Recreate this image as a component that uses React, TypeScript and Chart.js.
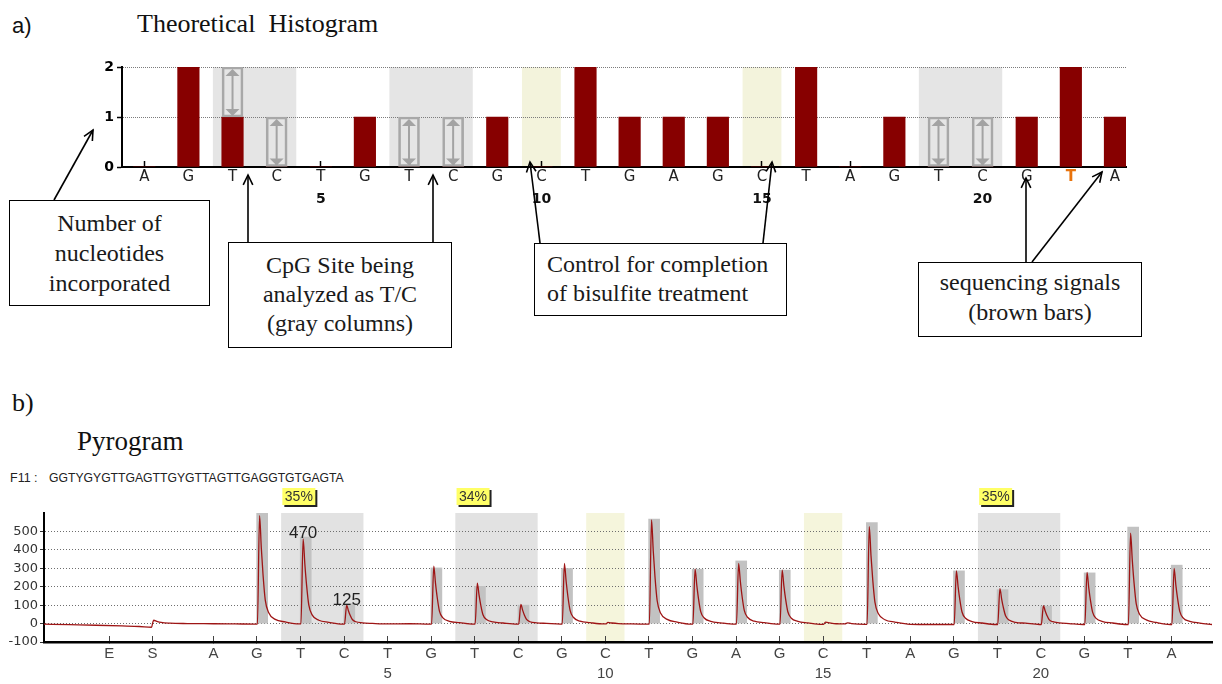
import React, { useEffect, useRef } from 'react';
import { Chart, registerables } from 'chart.js';

Chart.register(...registerables);

const SANS = '"DejaVu Sans", Verdana, sans-serif';
const ARIAL = '"Liberation Sans", Arial, sans-serif';
const SERIF = '"Liberation Serif", "Times New Roman", serif';

// ---------- Panel a: theoretical histogram ----------
const histPositions = [1, 2, 3, 4, 5, 6, 7, 8, 9, 10, 11, 12, 13, 14, 15, 16, 17, 18, 19, 20, 21, 22, 23];
const histLetters = ['A', 'G', 'T', 'C', 'T', 'G', 'T', 'C', 'G', 'C', 'T', 'G', 'A', 'G', 'C', 'T', 'A', 'G', 'T', 'C', 'G', 'T', 'A'];
const histCounts = [0, 2, 1, 0, 0, 1, 0, 0, 1, 0, 2, 1, 1, 1, 0, 2, 0, 1, 0, 0, 1, 2, 1];
const histNumberTicks = [5, 10, 15, 20];
const variablePositions = [3, 4, 7, 8, 19, 20];
const variableLow = [1, 0, 0, 0, 0, 0];
const variableHigh = [2, 1, 1, 1, 1, 1];
const cpgStarts = [3, 7, 19];
const controlPositions = [10, 15];
const highlightedPosition = 22;

// ---------- Panel b: pyrogram ----------
const pyroTickPositions = [-1.39, -0.4, 1, 2, 3, 4, 5, 6, 7, 8, 9, 10, 11, 12, 13, 14, 15, 16, 17, 18, 19, 20, 21, 22, 23];
const pyroLetters = ['E', 'S', 'A', 'G', 'T', 'C', 'T', 'G', 'T', 'C', 'G', 'C', 'T', 'G', 'A', 'G', 'C', 'T', 'A', 'G', 'T', 'C', 'G', 'T', 'A'];
const pyroNumberTicks = [5, 10, 15, 20];
const pyroBarPositions = [2, 3, 4, 6, 7, 8, 9, 11, 12, 13, 14, 16, 18, 19, 20, 21, 22, 23];
const pyroBarHeights = [600, 470, 108, 302, 202, 100, 299, 567, 295, 340, 290, 548, 286, 184, 95, 275, 523, 317];
const pyroTrace: [number, number][] = [
  [-2.89, -3], [-2.3, -6], [-1.7, -9], [-1.1, -13], [-0.7, -16], [-0.42, -20], [-0.39, 8], [-0.37, 18], [-0.3, 12], [-0.2, 6], [0, 2], [0.4, 0], [1, -1], [1.5, -2], [1.97, -3],
  [2.01, -2], [2.06, 586], [2.1, 410], [2.14, 264], [2.19, 129], [2.27, 59], [2.42, 23], [2.65, 9], [2.97, -2],
  [3.01, -2], [3.06, 460], [3.1, 322], [3.14, 207], [3.19, 101], [3.27, 46], [3.42, 18], [3.65, 7], [3.97, -3],
  [4.01, -3], [4.06, 100], [4.1, 70], [4.14, 45], [4.19, 22], [4.27, 10], [4.42, 4], [4.65, 1], [5.0, -2], [5.5, -1], [5.97, -3],
  [6.01, -3], [6.06, 311], [6.1, 218], [6.14, 140], [6.19, 68], [6.27, 31], [6.42, 12], [6.65, 5], [6.97, -3],
  [7.01, -3], [7.06, 220], [7.1, 154], [7.14, 99], [7.19, 48], [7.27, 22], [7.42, 9], [7.65, 3], [7.97, -3],
  [8.01, -3], [8.06, 104], [8.1, 73], [8.14, 47], [8.19, 23], [8.27, 10], [8.42, 4], [8.65, 1], [8.97, -3],
  [9.01, -3], [9.06, 326], [9.1, 228], [9.14, 147], [9.19, 72], [9.27, 33], [9.42, 13], [9.65, 5], [9.97, -2],
  [10.01, -2], [10.06, 6], [10.15, 3], [10.3, 0], [10.6, -2], [10.97, -3],
  [11.01, -3], [11.06, 563], [11.1, 394], [11.14, 253], [11.19, 124], [11.27, 56], [11.42, 23], [11.65, 8], [11.97, -3],
  [12.01, -3], [12.06, 295], [12.1, 207], [12.14, 133], [12.19, 65], [12.27, 30], [12.42, 12], [12.65, 4], [12.97, -3],
  [13.01, -3], [13.06, 326], [13.1, 228], [13.14, 147], [13.19, 72], [13.27, 33], [13.42, 13], [13.65, 5], [13.97, -3],
  [14.01, -3], [14.06, 290], [14.1, 203], [14.14, 131], [14.19, 64], [14.27, 29], [14.42, 12], [14.65, 4], [14.97, -4],
  [15.01, -4], [15.06, 8], [15.15, 4], [15.3, -1], [15.5, -2], [15.56, 4], [15.65, 0], [15.97, -4],
  [16.01, -4], [16.06, 526], [16.1, 368], [16.14, 237], [16.19, 116], [16.27, 53], [16.42, 21], [16.65, 8], [17.0, -4], [17.5, -5], [17.97, -5],
  [18.01, -5], [18.06, 286], [18.1, 200], [18.14, 129], [18.19, 63], [18.27, 29], [18.42, 11], [18.65, 3], [18.97, -5],
  [19.01, -5], [19.06, 190], [19.1, 133], [19.14, 86], [19.19, 42], [19.27, 19], [19.42, 7], [19.65, 2], [19.97, -5],
  [20.01, -5], [20.06, 97], [20.1, 68], [20.14, 44], [20.19, 21], [20.27, 10], [20.42, 4], [20.65, 0], [20.97, -5],
  [21.01, -5], [21.06, 277], [21.1, 194], [21.14, 125], [21.19, 61], [21.27, 28], [21.42, 11], [21.65, 3], [21.97, -5],
  [22.01, -5], [22.06, 490], [22.1, 343], [22.14, 221], [22.19, 108], [22.27, 49], [22.42, 20], [22.65, 6], [22.97, -5],
  [23.01, -5], [23.06, 299], [23.1, 209], [23.14, 135], [23.19, 66], [23.27, 30], [23.42, 12], [23.65, 3], [23.93, -5],
];
const methylationLabels = ['35%', '34%', '35%'];
const peakLabelPositions = [3, 4];
const peakLabelTexts = ['470', '125'];
const sequenceName = 'F11 :';
const sequenceText = 'GGTYGYGTTGAGTTGYGTTAGTTGAGGTGTGAGTA';

// ---------- plugins ----------
function makeShading(id: string, gray: string, cream: string) {
  return {
    id,
    beforeDraw(chart: any) {
      const { ctx, chartArea, scales } = chart;
      const x = scales.x;
      const h = chartArea.bottom - chartArea.top;
      ctx.save();
      ctx.fillStyle = gray;
      cpgStarts.forEach((s) => {
        const l = x.getPixelForValue(s - 0.445);
        const r = x.getPixelForValue(s + 1.445);
        ctx.fillRect(l, chartArea.top, r - l, h);
      });
      ctx.fillStyle = cream;
      controlPositions.forEach((p) => {
        const l = x.getPixelForValue(p - 0.44);
        const r = x.getPixelForValue(p + 0.44);
        ctx.fillRect(l, chartArea.top, r - l, h);
      });
      ctx.restore();
    },
  };
}

const variableArrows = {
  id: 'variableArrows',
  afterDatasetsDraw(chart: any) {
    const meta = chart.getDatasetMeta(1);
    const ctx = chart.ctx;
    ctx.save();
    ctx.strokeStyle = '#a3a3a3';
    ctx.fillStyle = '#a3a3a3';
    ctx.lineWidth = 2;
    meta.data.forEach((el: any) => {
      const p = el.getProps(['x', 'y', 'base'], true);
      const top = Math.min(p.y, p.base);
      const bot = Math.max(p.y, p.base);
      const x = p.x;
      ctx.beginPath();
      ctx.moveTo(x, top + 6);
      ctx.lineTo(x, bot - 6);
      ctx.stroke();
      ctx.beginPath();
      ctx.moveTo(x, top + 2);
      ctx.lineTo(x - 7, top + 9);
      ctx.lineTo(x + 7, top + 9);
      ctx.closePath();
      ctx.fill();
      ctx.beginPath();
      ctx.moveTo(x, bot - 1);
      ctx.lineTo(x - 7, bot - 8);
      ctx.lineTo(x + 7, bot - 8);
      ctx.closePath();
      ctx.fill();
    });
    ctx.restore();
  },
};

const pyroLabels = {
  id: 'pyroLabels',
  afterDraw(chart: any) {
    const { ctx, chartArea, scales } = chart;
    const x = scales.x;
    const y = scales.y;
    ctx.save();
    ctx.font = `14px ${ARIAL}`;
    ctx.textAlign = 'center';
    ctx.textBaseline = 'middle';
    cpgStarts.forEach((s, i) => {
      const l = x.getPixelForValue(s - 0.44) + 1;
      const w = 33;
      const t = chartArea.top - 25;
      const h = 17;
      ctx.fillStyle = '#222';
      ctx.fillRect(l + 2, t + 2, w, h);
      ctx.fillStyle = '#ffff66';
      ctx.fillRect(l, t, w, h);
      ctx.fillStyle = '#333';
      ctx.fillText(methylationLabels[i], l + w / 2, t + h / 2 + 1);
    });
    ctx.font = `17px ${ARIAL}`;
    ctx.textBaseline = 'alphabetic';
    ctx.fillStyle = '#222';
    peakLabelPositions.forEach((p, i) => {
      const v = pyroBarHeights[pyroBarPositions.indexOf(p)];
      ctx.fillText(peakLabelTexts[i], x.getPixelForValue(p + 0.06), y.getPixelForValue(v) + 1);
    });
    ctx.restore();
  },
};

// ---------- chart configs ----------
function histogramConfig(): any {
  return {
    type: 'bar',
    data: {
      datasets: [
        {
          label: 'Nucleotides incorporated',
          data: histPositions.map((p, i) => ({ x: p, y: histCounts[i] })),
          backgroundColor: '#870000',
          borderWidth: 0,
          barThickness: 21.5,
          grouped: false,
          order: 1,
        },
        {
          label: 'T/C variable',
          data: variablePositions.map((p, i) => ({ x: p, y: [variableLow[i], variableHigh[i]] })),
          backgroundColor: 'rgba(0,0,0,0)',
          borderColor: '#a8a8a8',
          borderWidth: 2,
          borderSkipped: false,
          barThickness: 21,
          grouped: false,
          order: 0,
        },
      ],
    },
    options: {
      responsive: false,
      animation: false,
      layout: { padding: { left: 0, right: 96, top: 27, bottom: 6 } },
      plugins: { legend: { display: false }, tooltip: { enabled: false } },
      scales: {
        x: {
          type: 'linear',
          position: 'bottom',
          min: 0.495,
          max: 23.25,
          offset: false,
          weight: 0,
          grid: { display: true, offset: false, drawOnChartArea: false, drawTicks: true, tickLength: -6, tickColor: '#000', tickWidth: 1.5 },
          border: { display: true, color: '#000', width: 2 },
          afterBuildTicks: (s: any) => {
            s.ticks = histPositions.map((v) => ({ value: v }));
          },
          afterFit: (s: any) => {
            s.height = 22;
          },
          ticks: {
            autoSkip: false,
            maxRotation: 0,
            padding: 7,
            callback: (_v: any, i: number) => histLetters[i],
            color: (c: any) => (c.tick && c.tick.value === highlightedPosition ? '#e8730c' : '#222'),
            font: (c: any) => ({ family: SANS, size: 15, weight: c.tick && c.tick.value === highlightedPosition ? 'bold' : 'normal' }),
          },
        },
        x2: {
          type: 'linear',
          axis: 'x',
          position: 'bottom',
          min: 0.495,
          max: 23.25,
          offset: false,
          weight: 1,
          grid: { display: false, drawTicks: false },
          border: { display: false },
          afterBuildTicks: (s: any) => {
            s.ticks = histNumberTicks.map((v) => ({ value: v }));
          },
          afterFit: (s: any) => {
            s.height = 20;
          },
          ticks: {
            autoSkip: false,
            maxRotation: 0,
            padding: 2,
            callback: (v: any) => String(v),
            color: '#111',
            font: { family: SANS, size: 14, weight: 'bold' },
          },
        },
        y: {
          min: 0,
          max: 2,
          ticks: { autoSkip: false, stepSize: 1, padding: 3, color: '#000', font: { family: SANS, size: 14, weight: 'bold' } },
          grid: { color: '#7c7c7c', lineWidth: 1, drawTicks: true, tickLength: 5, tickColor: '#000', tickWidth: 1.5 },
          border: { color: '#000', width: 2, dash: [1, 1] },
          afterFit: (s: any) => {
            s.width = 122;
          },
        },
      },
    },
    plugins: [makeShading('histShading', '#e5e5e5', '#f3f3dc'), variableArrows],
  };
}

function pyrogramConfig(): any {
  return {
    type: 'bar',
    data: {
      datasets: [
        {
          type: 'line',
          label: 'Signal',
          data: pyroTrace.map(([x, y]) => ({ x, y })),
          borderColor: '#9e1515',
          borderWidth: 1.3,
          pointRadius: 0,
          cubicInterpolationMode: 'monotone',
          fill: false,
          order: 0,
        },
        {
          type: 'bar',
          label: 'Histogram',
          data: pyroBarPositions.map((p, i) => ({ x: p + 0.12, y: pyroBarHeights[i] })),
          backgroundColor: '#c2c2c2',
          borderWidth: 0,
          barThickness: 11,
          grouped: false,
          order: 1,
        },
      ],
    },
    options: {
      responsive: false,
      animation: false,
      layout: { padding: { left: 0, right: 10, top: 28, bottom: 6 } },
      plugins: { legend: { display: false }, tooltip: { enabled: false } },
      scales: {
        x: {
          type: 'linear',
          position: 'bottom',
          min: -2.89,
          max: 23.93,
          offset: false,
          weight: 0,
          grid: { display: true, offset: false, drawOnChartArea: false, drawTicks: true, tickLength: -6, tickColor: '#444', tickWidth: 1 },
          border: { display: true, color: '#000', width: 2.5 },
          afterBuildTicks: (s: any) => {
            s.ticks = pyroTickPositions.map((v) => ({ value: v }));
          },
          afterFit: (s: any) => {
            s.height = 18;
          },
          ticks: {
            autoSkip: false,
            maxRotation: 0,
            padding: 9,
            callback: (_v: any, i: number) => pyroLetters[i],
            color: '#444',
            font: { family: ARIAL, size: 15 },
          },
        },
        x2: {
          type: 'linear',
          axis: 'x',
          position: 'bottom',
          min: -2.89,
          max: 23.93,
          offset: false,
          weight: 1,
          grid: { display: false, drawTicks: false },
          border: { display: false },
          afterBuildTicks: (s: any) => {
            s.ticks = pyroNumberTicks.map((v) => ({ value: v }));
          },
          afterFit: (s: any) => {
            s.height = 18;
          },
          ticks: {
            autoSkip: false,
            maxRotation: 0,
            padding: 5,
            callback: (v: any) => String(v),
            color: '#444',
            font: { family: ARIAL, size: 15 },
          },
        },
        y: {
          min: -100,
          max: 600,
          ticks: {
            autoSkip: false,
            stepSize: 100,
            padding: 2,
            color: '#333',
            font: { family: SANS, size: 13 },
            callback: (v: any) => (v === 600 ? '' : String(v)),
          },
          grid: {
            color: (c: any) => (c.tick && c.tick.value === 600 ? 'rgba(0,0,0,0)' : '#6e6e6e'),
            tickColor: (c: any) => (c.tick && c.tick.value === 600 ? 'rgba(0,0,0,0)' : '#333'),
            lineWidth: 1,
            drawTicks: true,
            tickLength: 4,
          },
          border: { color: '#000', width: 2, dash: [1, 2] },
          afterFit: (s: any) => {
            s.width = 44;
          },
        },
      },
    },
    plugins: [makeShading('pyroShading', '#e2e2e2', '#f5f5dc'), pyroLabels],
  };
}

// ---------- components ----------
type CanvasProps = { make: () => any; left: number; top: number; width: number; height: number };

function ChartCanvas({ make, left, top, width, height }: CanvasProps) {
  const ref = useRef<HTMLCanvasElement | null>(null);
  useEffect(() => {
    if (!ref.current) return;
    const chart = new Chart(ref.current, make());
    return () => chart.destroy();
  }, [make]);
  return (
    <canvas
      ref={ref}
      width={width}
      height={height}
      style={{ position: 'absolute', left, top, width, height, display: 'block' }}
    />
  );
}

const BOX_FONT = 24;
const boxes = [
  { left: 9, top: 200, width: 201, height: 106, align: 'center', padLeft: 0, baseline: 231.7, lh: 30, lines: ['Number of', 'nucleotides', 'incorporated'] },
  { left: 228, top: 242, width: 224, height: 106, align: 'center', padLeft: 0, baseline: 274, lh: 29, lines: ['CpG Site being', 'analyzed as T/C', '(gray columns)'] },
  { left: 534, top: 243, width: 253, height: 73, align: 'left', padLeft: 12, baseline: 273.3, lh: 29.4, lines: ['Control for completion', 'of bisulfite treatment'] },
  { left: 918, top: 262, width: 224, height: 75, align: 'center', padLeft: 0, baseline: 291.7, lh: 29.4, lines: ['sequencing signals', '(brown bars)'] },
];

const arrows: [number, number, number, number][] = [
  [54, 200, 93, 130],
  [248, 242, 248, 175],
  [433, 242, 433, 175],
  [540, 243, 530, 162],
  [763, 243, 772, 162],
  [1026, 262, 1026, 178],
  [1032, 262, 1102, 172],
];

function Arrow({ a }: { a: [number, number, number, number] }) {
  const [x1, y1, x2, y2] = a;
  const ang = Math.atan2(y2 - y1, x2 - x1);
  const L = 11;
  const s = 0.45;
  const p1 = `${x2 - L * Math.cos(ang - s)},${y2 - L * Math.sin(ang - s)}`;
  const p2 = `${x2 - L * Math.cos(ang + s)},${y2 - L * Math.sin(ang + s)}`;
  return (
    <g stroke="#000" strokeWidth={1.6} fill="none">
      <line x1={x1} y1={y1} x2={x2} y2={y2} />
      <polyline points={`${p1} ${x2},${y2} ${p2}`} />
    </g>
  );
}

function AnnotationBox({ b }: { b: (typeof boxes)[number] }) {
  const border = 1.5;
  const firstOffset = (b.lh - 1.107 * BOX_FONT) / 2 + 0.891 * BOX_FONT;
  const textTop = b.baseline - b.top - border - firstOffset;
  return (
    <div
      style={{
        position: 'absolute',
        left: b.left,
        top: b.top,
        width: b.width,
        height: b.height,
        boxSizing: 'border-box',
        border: `${border}px solid #000`,
        background: '#fff',
      }}
    >
      <div
        style={{
          position: 'absolute',
          left: b.padLeft,
          right: 0,
          top: textTop,
          textAlign: b.align as any,
          fontFamily: SERIF,
          fontSize: BOX_FONT,
          lineHeight: `${b.lh}px`,
          color: '#1a1a1a',
          whiteSpace: 'nowrap',
        }}
      >
        {b.lines.map((l) => (
          <div key={l}>{l}</div>
        ))}
      </div>
    </div>
  );
}

export default function App() {
  const text = (extra: React.CSSProperties): React.CSSProperties => ({
    position: 'absolute',
    whiteSpace: 'nowrap',
    color: '#111',
    ...extra,
  });
  return (
    <div style={{ position: 'absolute', left: 0, top: 0, width: 1222, height: 684, background: '#fff', overflow: 'hidden' }}>
      <div style={text({ left: 12, top: 15, fontFamily: ARIAL, fontSize: 22, lineHeight: '22px' })}>a)</div>
      <div style={text({ left: 137, top: 11, fontFamily: SERIF, fontSize: 26, lineHeight: '26px' })}>Theoretical{'\u00a0\u00a0'}Histogram</div>
      <ChartCanvas make={histogramConfig} left={0} top={40} width={1222} height={175} />

      <div style={text({ left: 12, top: 390, fontFamily: SERIF, fontSize: 26, lineHeight: '26px' })}>b)</div>
      <div style={text({ left: 77, top: 428, fontFamily: SERIF, fontSize: 27, lineHeight: '27px' })}>Pyrogram</div>
      <div style={text({ left: 10, top: 472, fontFamily: ARIAL, fontSize: 12.5, lineHeight: '12.5px', color: '#222' })}>{sequenceName}</div>
      <div style={text({ left: 49, top: 472, fontFamily: ARIAL, fontSize: 12.2, lineHeight: '12.5px', color: '#222' })}>{sequenceText}</div>
      <ChartCanvas make={pyrogramConfig} left={0} top={485} width={1222} height={199} />

      {boxes.map((b, i) => (
        <AnnotationBox key={i} b={b} />
      ))}
      <svg width={1222} height={684} style={{ position: 'absolute', left: 0, top: 0, pointerEvents: 'none' }}>
        {arrows.map((a, i) => (
          <Arrow key={i} a={a} />
        ))}
      </svg>
    </div>
  );
}
